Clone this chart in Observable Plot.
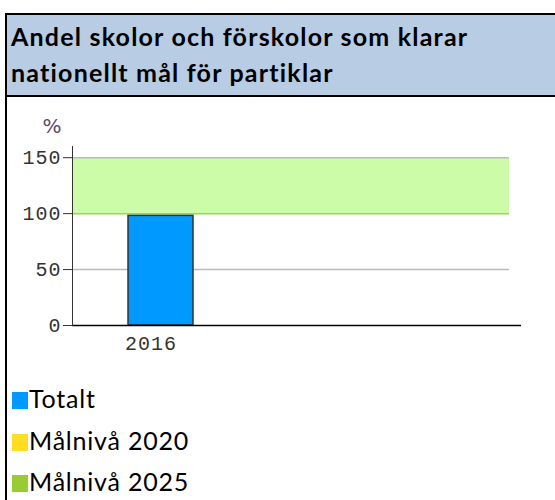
<!DOCTYPE html>
<html><head><meta charset="utf-8">
<script src="https://cdn.jsdelivr.net/npm/d3@7"></script>
<script src="https://cdn.jsdelivr.net/npm/@observablehq/plot@0.6"></script>
<style>
body{margin:0;background:#fff;}
#wrap{position:relative;width:555px;height:500px;overflow:hidden;background:#fff;}
#lborder{position:absolute;left:5px;top:13px;width:2px;height:487px;background:#000;}
#header{position:absolute;left:5px;top:13px;width:560px;height:84px;box-sizing:border-box;background:#b8cce4;border-top:2px solid #000;border-bottom:2px solid #000;border-left:2px solid #000;font:bold 25px Lato, sans-serif;letter-spacing:1.2px;color:#000;padding:3px 0 0 4px;line-height:36px;white-space:nowrap;}
#chart{position:absolute;left:0;top:100px;}
.leg{position:absolute;left:12px;font:25px Lato, sans-serif;letter-spacing:0.8px;color:#000;white-space:nowrap;line-height:30px;}
.leg span.sw{display:inline-block;width:16px;height:17px;margin-right:1px;margin-bottom:-1px;}
</style></head>
<body><div id="wrap"><div id="header"></div><div id="chart"></div><div id="legend"></div><div id="lborder"></div></div>
<script>
const title = ["Andel skolor och förskolor som klarar", "nationellt mål för partiklar"];
const years = ["2016"];
const totalt = [98];
const target2025 = [{lo: 100, hi: 150}];
const yTicks = [0, 50, 100, 150];
const grayLines = [50, 150];
const greenLines = [100];
const legendLabels = ["Totalt", "Målnivå 2020", "Målnivå 2025"];
const legendColors = ["#0099ff", "#ffdd22", "#99cc33"];

document.getElementById("header").innerHTML = title.join("<br>");

const data = years.map((y, i) => ({year: y, value: totalt[i]}));

const chart = Plot.plot({
  width: 555,
  height: 260,
  marginLeft: 72,
  marginRight: 46,
  marginTop: 46,
  marginBottom: 35,
  style: {fontFamily: "Liberation Mono", fontSize: "20px", color: "#333", background: "transparent", letterSpacing: "1px"},
  x: {type: "band", domain: years, range: [72, 250], padding: 0.46, label: null},
  y: {domain: [0, 160], label: null},
  marks: [
    Plot.rect(target2025, {y1: "lo", y2: "hi", fill: "#cdfca9"}),
    Plot.ruleY(grayLines, {stroke: "#bbb", strokeWidth: 1.5}),
    Plot.ruleY(greenLines, {stroke: "#99dd33", strokeWidth: 1.5}),
    Plot.barY(data, {x: "year", y: "value", fill: "#0099ff", stroke: "#333", strokeWidth: 1.5}),
    Plot.ruleY([0], {stroke: "#000", strokeWidth: 1.5, insetRight: -12}),
    Plot.frame({anchor: "left", stroke: "#333"}),
    Plot.axisY({ticks: yTicks, tickSize: 9, tickPadding: 2, stroke: "#333", fill: "#333", label: null}),
    Plot.axisX({tickSize: 0, tickPadding: 10, dx: -10, fill: "#333", label: null}),
    Plot.text(["%"], {frameAnchor: "top-left", textAnchor: "start", dx: -30, dy: -28, fill: "#5a4a66", fontSize: 20, fontFamily: "DejaVu Sans", letterSpacing: 0})
  ]
});
document.getElementById("chart").appendChild(chart);

const leg = document.getElementById("legend");
legendLabels.forEach((l, i) => {
  const d = document.createElement("div");
  d.className = "leg";
  d.style.top = (383 + i * 41.5) + "px";
  d.innerHTML = `<span class="sw" style="background:${legendColors[i]}"></span>${l}`;
  leg.appendChild(d);
});
</script></body></html>
